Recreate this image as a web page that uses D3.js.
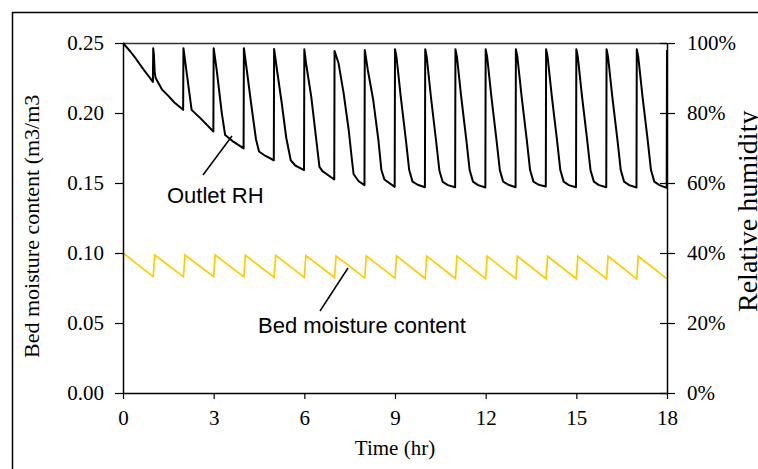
<!DOCTYPE html>
<html><head><meta charset="utf-8">
<script src="https://cdn.jsdelivr.net/npm/d3@7/dist/d3.min.js"></script>
<style>body{margin:0;background:#fff;overflow:hidden}</style></head>
<body><svg id="c" width="758" height="469"></svg>
<script>
const timeTicks = [0, 3, 6, 9, 12, 15, 18];
const moistureTicks = [0, 0.05, 0.10, 0.15, 0.20, 0.25];
const rhTicks = [0, 20, 40, 60, 80, 100];

// Outlet RH (%)
const rhTime = [
  0, 0.1, 0.25, 0.4, 0.55, 0.7, 0.85, 0.99,
  1.0, 1.02, 1.05, 1.08, 1.3, 1.5, 1.7, 1.99,
  2.0, 2.11, 2.27, 2.55, 2.99,
  3.0, 3.1, 3.27, 3.38, 3.65, 3.99,
  4.0, 4.1, 4.25, 4.4, 4.5, 4.7, 4.99,
  5.0, 5.1, 5.25, 5.4, 5.55, 5.7, 5.99,
  6.0, 6.06, 6.23, 6.4, 6.5, 6.6, 6.99,
  7.0, 7.13, 7.3, 7.47, 7.57, 7.63, 7.8, 7.99,
  8.0, 8.1, 8.28, 8.45, 8.55, 8.65, 8.99,
  9.0, 9.05, 9.19, 9.36, 9.47, 9.58, 9.75, 9.99,
  10.0, 10.05, 10.19, 10.36, 10.47, 10.58, 10.75, 10.99,
  11.0, 11.05, 11.19, 11.36, 11.47, 11.58, 11.75, 11.99,
  12.0, 12.05, 12.19, 12.36, 12.47, 12.58, 12.75, 12.99,
  13.0, 13.05, 13.19, 13.36, 13.47, 13.58, 13.75, 13.99,
  14.0, 14.05, 14.19, 14.36, 14.47, 14.58, 14.75, 14.99,
  15.0, 15.05, 15.19, 15.36, 15.47, 15.58, 15.75, 15.99,
  16.0, 16.05, 16.19, 16.36, 16.47, 16.58, 16.75, 16.99,
  17.0, 17.05, 17.19, 17.36, 17.47, 17.58, 17.75, 17.99,
  18.0
];
const rhValue = [
  100, 99, 97.5, 95.8, 94, 92.2, 90.5, 88.9,
  98.5, 97, 91.5, 90, 86.6, 84.9, 83, 80.9,
  98.5, 91.3, 80.9, 78.6, 74.7,
  98.5, 92.3, 79.9, 73.7, 71.8, 69.9,
  98.5, 92, 82, 72.5, 69, 67.8, 66.5,
  98.3, 92, 83, 73, 66.5, 65, 63.7,
  98.2, 94, 84.6, 72, 64.6, 63.4, 61,
  97.7, 94.3, 85.7, 75, 67, 62.5, 60.5, 59.4,
  98, 92.3, 83.7, 72.3, 63.7, 61, 58.9,
  98.2, 96, 84.7, 72.3, 63.7, 60.4, 59.5, 58.8,
  98.2, 96, 84.5, 72.0, 63.5, 60.3, 59.4, 58.8,
  98.2, 96, 84.7, 72.3, 63.7, 60.4, 59.4, 58.7,
  98.2, 96, 84.6, 72.2, 63.6, 60.4, 59.5, 58.8,
  98.2, 96, 84.7, 72.3, 63.7, 60.4, 59.5, 59.0,
  98.2, 96, 84.7, 72.3, 63.7, 60.4, 59.4, 58.8,
  98.2, 96, 84.6, 72.2, 63.6, 60.4, 59.4, 58.8,
  98.2, 96, 84.7, 72.3, 63.7, 60.4, 59.4, 58.7,
  98.2, 96, 84.7, 72.3, 63.7, 60.4, 59.4, 58.6,
  98.0
];

// Bed moisture content (m3/m3)
const moistTime = [0, 1.0, 1.05, 2.0, 2.05, 3.0, 3.05, 4.0, 4.05, 5.0, 5.05, 6.0, 6.05,
  7.0, 7.05, 8.0, 8.05, 9.0, 9.05, 10.0, 10.05, 11.0, 11.05, 12.0, 12.05, 13.0, 13.05,
  14.0, 14.05, 15.0, 15.05, 16.0, 16.05, 17.0, 17.05, 18.0];
const moistValue = [0.1000, 0.0831, 0.0986, 0.0831, 0.0986, 0.0831, 0.0986, 0.0829, 0.0984,
  0.0826, 0.0983, 0.0826, 0.0982, 0.0825, 0.0980, 0.0822, 0.0980, 0.0820, 0.0979,
  0.0818, 0.0978, 0.0818, 0.0978, 0.0817, 0.0978, 0.0817, 0.0977, 0.0816, 0.0977,
  0.0816, 0.0977, 0.0815, 0.0977, 0.0815, 0.0977, 0.0815];

const svg = d3.select("#c");
const L = 123, R = 667, T = 43, B = 393;
const x = d3.scaleLinear().domain([0, 18]).range([L, R]);
const yL = d3.scaleLinear().domain([0, 0.25]).range([B, T]);
const yR = d3.scaleLinear().domain([0, 100]).range([B, T]);

const serif = "'Liberation Serif','Times New Roman',serif";
const sans = "'Liberation Sans',Arial,sans-serif";

// outer frame
svg.append("rect").attr("x", 12.5).attr("y", 12.5).attr("width", 900).attr("height", 600)
  .attr("fill", "none").attr("stroke", "#000").attr("stroke-width", 1.5);

// plot top border
svg.append("line").attr("x1", L).attr("x2", R).attr("y1", T + 0.5).attr("y2", T + 0.5)
  .attr("stroke", "#333").attr("stroke-width", 1.5);

// data lines
svg.append("path")
  .datum(moistTime.map((t, i) => [t, moistValue[i]]))
  .attr("fill", "none").attr("stroke", "#FFCC00").attr("stroke-width", 1.7)
  .attr("d", d3.line().x(d => x(d[0])).y(d => yL(d[1])));

svg.append("path")
  .datum(rhTime.map((t, i) => [t, rhValue[i]]))
  .attr("fill", "none").attr("stroke", "#000").attr("stroke-width", 2)
  .attr("stroke-linejoin", "round")
  .attr("d", d3.line().x(d => x(d[0])).y(d => yR(d[1])));

// axes
function styleAxis(g, size) {
  g.selectAll("path.domain").attr("stroke", "#000").attr("stroke-width", 1.5);
  g.selectAll(".tick line").attr("stroke", "#000").attr("stroke-width", 1.2);
  g.selectAll("text").attr("font-family", serif).attr("font-size", size).attr("fill", "#000");
}
const gL = svg.append("g").attr("transform", `translate(${L},0)`)
  .call(d3.axisLeft(yL).tickValues(moistureTicks).tickFormat(d3.format(".2f"))
    .tickSizeInner(8).tickSizeOuter(0).tickPadding(11));
styleAxis(gL, 21);

const gR = svg.append("g").attr("transform", `translate(${R},0)`)
  .call(d3.axisRight(yR).tickValues(rhTicks).tickFormat(d => d + "%")
    .tickSizeInner(8).tickSizeOuter(0).tickPadding(12));
gR.selectAll(".tick line").attr("x1", -7);
styleAxis(gR, 21);

const gB = svg.append("g").attr("transform", `translate(0,${B})`)
  .call(d3.axisBottom(x).tickValues(timeTicks).tickFormat(d3.format("d"))
    .tickSizeInner(6).tickSizeOuter(0).tickPadding(11));
styleAxis(gB, 21);

// axis titles
svg.append("text").attr("transform", "translate(39,358) rotate(-90)")
  .attr("font-family", serif).attr("font-size", 22).attr("text-anchor", "start")
  .text("Bed moisture content (m3/m3");
svg.append("text").attr("transform", "translate(757,312) rotate(-90)")
  .attr("font-family", serif).attr("font-size", 28).attr("text-anchor", "start")
  .text("Relative humidity");
svg.append("text").attr("x", (L + R) / 2).attr("y", 455)
  .attr("font-family", serif).attr("font-size", 21).attr("text-anchor", "middle")
  .text("Time (hr)");

// annotations
svg.append("line").attr("x1", 203).attr("y1", 175).attr("x2", 232).attr("y2", 136)
  .attr("stroke", "#000").attr("stroke-width", 1.5);
svg.append("text").attr("x", 167).attr("y", 203).attr("font-family", sans).attr("font-size", 22)
  .text("Outlet RH");
svg.append("line").attr("x1", 320).attr("y1", 311).attr("x2", 348).attr("y2", 268)
  .attr("stroke", "#000").attr("stroke-width", 1.5);
svg.append("text").attr("x", 258).attr("y", 333).attr("font-family", sans).attr("font-size", 22)
  .text("Bed moisture content");
</script></body></html>
